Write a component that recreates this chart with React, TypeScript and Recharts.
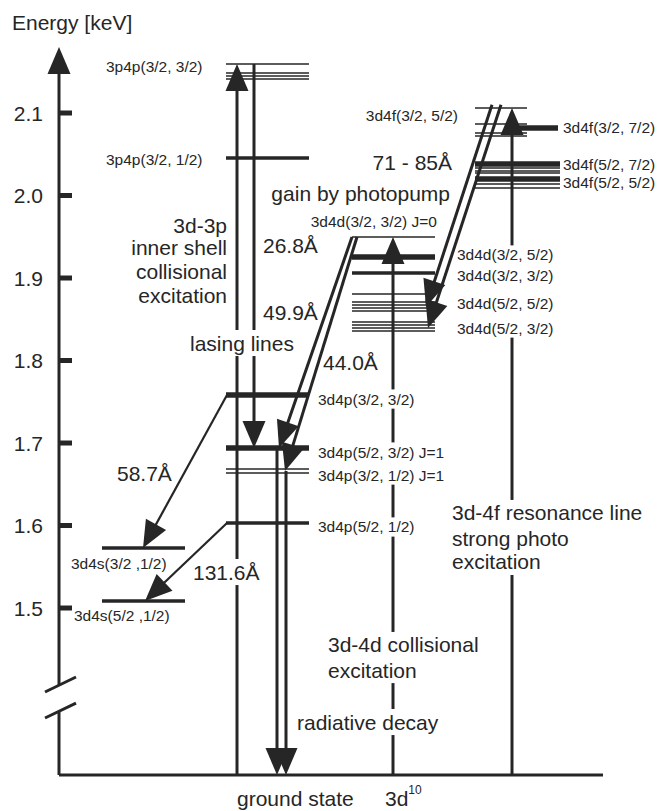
import { ComposedChart, ReferenceLine, XAxis, YAxis } from "recharts";

const FONT = '"Liberation Sans", Arial, Helvetica, sans-serif';
const INK = "#262626";

// energy axis (keV); the axis is broken, the ground state sits at its foot
const GROUND = 1.2976;
const AXIS_TOP = 2.18;
const yTicks = [1.5, 1.6, 1.7, 1.8, 1.9, 2.0, 2.1];

// level energies, [column, keV], grouped by how heavy they are drawn
const thinLevels: [string, number][] = [
  ["p", 2.1594], ["p", 2.1485], ["p", 2.1448], ["p", 2.1412],
  ["p", 1.6685], ["p", 1.6636],
  ["d", 1.9497], ["d", 1.8806],
  ["d", 1.871], ["d", 1.8673], ["d", 1.8636], ["d", 1.86],
  ["d", 1.8467], ["d", 1.843], ["d", 1.8394], ["d", 1.8358],
  ["f", 2.1061], ["f", 2.0867], ["f", 2.0758], ["f", 2.0721],
  ["fw", 2.0333], ["fw", 2.0297], ["fw", 2.0273], ["fw", 2.0139], ["fw", 2.0091],
];
const mediumLevels: [string, number][] = [
  ["p", 2.0455], ["p", 1.603], ["s", 1.5727], ["s", 1.5085], ["d", 1.906],
];
const thickLevels: [string, number][] = [
  ["p", 1.7582], ["p", 1.6939], ["d", 1.9255], ["fx", 2.0818], ["fw", 2.0382], ["fw", 2.02],
];

// transitions: [lane, keV] -> [lane, keV]
const excitations: [string, number, string, number][] = [
  ["pUp", GROUND, "pUp", 2.1594],
  ["dUp", GROUND, "dUp", 1.9497],
  ["fUp", GROUND, "fUp", 2.1061],
];
const heavyArrows: [string, number, string, number][] = [
  ["pLase", 2.1594, "pLase", 1.6939],
  ["decay1", 1.6939, "decay1", GROUND],
  ["decay2", 1.6661, "decay2", GROUND],
  ["j0a", 1.9497, "tip49", 1.6939],
  ["j0b", 1.9497, "tip44", 1.6661],
  ["pumpA0", 2.11, "pumpA1", 1.8648],
  ["pumpB0", 2.11, "pumpB1", 1.8394],
];
const lightArrows: [string, number, string, number][] = [
  ["pLeft", 1.7582, "sTip1", 1.5727],
  ["pLeft", 1.603, "sTip2", 1.5085],
];

// layout: horizontal extents of the level columns and x of the arrow lanes (px)
const COLS: Record<string, [number, number]> = {
  s: [102, 185], p: [226, 309], d: [352, 435], f: [475, 527], fx: [513, 558], fw: [475, 560],
};
const LANE: Record<string, number> = {
  axis: 59, pUp: 237, pLase: 254, decay1: 277, decay2: 286, dUp: 393, fUp: 512,
  j0a: 352, j0b: 357, tip49: 279, tip44: 285, pLeft: 227, sTip1: 143, sTip2: 145,
  pumpA0: 492, pumpA1: 426, pumpB0: 501, pumpB1: 428,
};

type Lbl = [string, number, number, "start" | "end"];
const smallLabels: Lbl[] = [
  ["3p4p(3/2, 3/2)", 106, 2.1558, "start"],
  ["3p4p(3/2, 1/2)", 106, 2.0442, "start"],
  ["3d4f(3/2, 5/2)", 458, 2.0964, "end"],
  ["3d4f(3/2, 7/2)", 563, 2.083, "start"],
  ["3d4f(5/2, 7/2)", 563, 2.0376, "start"],
  ["3d4f(5/2, 5/2)", 563, 2.0158, "start"],
  ["3d4d(3/2, 3/2) J=0", 437, 1.9679, "end"],
  ["3d4d(3/2, 5/2)", 457, 1.9279, "start"],
  ["3d4d(3/2, 3/2)", 457, 1.9036, "start"],
  ["3d4d(5/2, 5/2)", 457, 1.8697, "start"],
  ["3d4d(5/2, 3/2)", 457, 1.8394, "start"],
  ["3d4p(3/2, 3/2)", 318, 1.7533, "start"],
  ["3d4p(5/2, 3/2) J=1", 318, 1.6891, "start"],
  ["3d4p(3/2, 1/2) J=1", 318, 1.6612, "start"],
  ["3d4p(5/2, 1/2)", 318, 1.5982, "start"],
  ["3d4s(3/2 ,1/2)", 71, 1.5545, "start"],
  ["3d4s(5/2 ,1/2)", 74, 1.4915, "start"],
];
const bigLabels: Lbl[] = [
  ["Energy [keV]", 12, 2.2103, "start"],
  ["3d-3p", 227, 1.9642, "end"],
  ["inner shell", 227, 1.9364, "end"],
  ["collisional", 227, 1.9073, "end"],
  ["excitation", 227, 1.8794, "end"],
  ["26.8Å", 263, 1.94, "start"],
  ["49.9Å", 263, 1.8576, "start"],
  ["lasing lines", 190, 1.8212, "start"],
  ["44.0Å", 323, 1.797, "start"],
  ["58.7Å", 117, 1.6636, "start"],
  ["131.6Å", 193, 1.5436, "start"],
  ["71 - 85Å", 452, 2.0394, "end"],
  ["gain by photopump", 450, 2.003, "end"],
  ["3d-4f  resonance line", 452, 1.6152, "start"],
  ["strong photo", 452, 1.5848, "start"],
  ["excitation", 452, 1.5558, "start"],
  ["3d-4d  collisional", 328, 1.4552, "start"],
  ["excitation", 328, 1.4248, "start"],
  ["radiative decay", 297, 1.3618, "start"],
  ["ground state", 237, 1.2697, "start"],
];

const SMALL = 15.5;
const BIG = 21;
const PX_PER_KEV = 728 / (AXIS_TOP - GROUND);

const ctx = typeof document !== "undefined" ? document.createElement("canvas").getContext("2d") : null;
function textWidth(t: string, size: number) {
  if (!ctx) return t.length * size * 0.55;
  ctx.font = `${size}px "Liberation Sans"`;
  return ctx.measureText(t).width;
}

// label boxes, used to leave gaps in the vertical lines behind the texts
const labelBoxes = [
  ...smallLabels.map((l) => [l, SMALL] as const),
  ...bigLabels.map((l) => [l, BIG] as const),
].map(([[t, x, e, a], size]) => {
  const w = textWidth(t, size);
  const x0 = a === "end" ? x - w : x;
  return { x0: x0 - 2, x1: x0 + w + 2, lo: e - (size * 0.62) / PX_PER_KEV, hi: e + (size * 0.62) / PX_PER_KEV };
});

function verticalPieces(x: number, from: number, to: number): [number, number][] {
  const lo = Math.min(from, to);
  const hi = Math.max(from, to);
  const gaps = labelBoxes
    .filter((b) => x >= b.x0 && x <= b.x1 && b.hi > lo && b.lo < hi)
    .map((b) => [b.lo, b.hi])
    .sort((a, b) => a[0] - b[0]);
  const merged: number[][] = [];
  for (const g of gaps) {
    const last = merged[merged.length - 1];
    if (last && g[0] - last[1] < 12 / PX_PER_KEV) last[1] = Math.max(last[1], g[1]);
    else merged.push([...g]);
  }
  const segs: [number, number][] = [];
  let cur = lo;
  for (const [g0, g1] of merged) {
    if (g0 > cur) segs.push([cur, g0]);
    cur = Math.max(cur, g1);
  }
  if (cur < hi) segs.push([cur, hi]);
  return from < to ? segs : segs.reverse().map(([a, b]) => [b, a] as [number, number]);
}

function labelShape(text: string, size: number, anchor: "start" | "end") {
  return (p: any) => (
    <text x={p.x1} y={p.y1} textAnchor={anchor} dominantBaseline="central" fontSize={size} fontFamily={FONT} fill={INK}>
      {text}
    </text>
  );
}

function arrowShape(width: number, headLen = 27, half = 11.5) {
  return (p: any) => {
    const { x1, y1, x2, y2 } = p;
    const len = Math.hypot(x2 - x1, y2 - y1) || 1;
    const ux = (x2 - x1) / len;
    const uy = (y2 - y1) / len;
    const bx = x2 - ux * headLen;
    const by = y2 - uy * headLen;
    const pts = `${x2},${y2} ${bx - uy * half},${by + ux * half} ${bx + uy * half},${by - ux * half}`;
    return (
      <g>
        <line x1={x1} y1={y1} x2={bx + ux * 2} y2={by + uy * 2} stroke={INK} strokeWidth={width} />
        <polygon points={pts} fill={INK} />
      </g>
    );
  };
}

function EnergyTick(props: any) {
  const { x, y, payload } = props;
  return (
    <g>
      <rect x={x} y={y - 2.5} width={13} height={5} fill={INK} />
      <text x={x - 16} y={y} textAnchor="end" dominantBaseline="central" fontSize={BIG} fontFamily={FONT} fill={INK}>
        {Number(payload.value).toFixed(1)}
      </text>
    </g>
  );
}

function levelLines(list: [string, number][], w: number, key: string) {
  return list.map(([c, e], i) => (
    <ReferenceLine
      key={`${key}${i}`}
      segment={[{ x: COLS[c][0], y: e }, { x: COLS[c][1], y: e }]}
      stroke={INK}
      strokeWidth={w}
      ifOverflow="visible"
    />
  ));
}

function arrows(list: [string, number, string, number][], w: number, key: string) {
  return list.flatMap(([a, e1, b, e2], i) => {
    if (a !== b) {
      return [
        <ReferenceLine
          key={`${key}${i}`}
          segment={[{ x: LANE[a], y: e1 }, { x: LANE[b], y: e2 }]}
          shape={arrowShape(w)}
          ifOverflow="visible"
        />,
      ];
    }
    const x = LANE[a];
    const segs = verticalPieces(x, e1, e2);
    return segs.map(([s1, s2], j) =>
      j === segs.length - 1 ? (
        <ReferenceLine key={`${key}${i}-${j}`} segment={[{ x, y: s1 }, { x, y: s2 }]} shape={arrowShape(w)} ifOverflow="visible" />
      ) : (
        <ReferenceLine key={`${key}${i}-${j}`} segment={[{ x, y: s1 }, { x, y: s2 }]} stroke={INK} strokeWidth={w} ifOverflow="visible" />
      ),
    );
  });
}

function labels(list: Lbl[], size: number, key: string) {
  return list.map(([t, x, e, a], i) => (
    <ReferenceLine
      key={`${key}${i}`}
      segment={[{ x, y: e }, { x: x + 0.001, y: e }]}
      shape={labelShape(t, size, a)}
      ifOverflow="visible"
    />
  ));
}

export default function App() {
  return (
    <div style={{ position: "absolute", left: 0, top: 0, width: 659, height: 811, background: "#fff" }}>
      <ComposedChart width={659} height={811} data={[]} margin={{ top: 47, right: 0, bottom: 36, left: 0 }}>
        <XAxis type="number" dataKey="x" domain={[59, 659]} allowDataOverflow hide />
        <YAxis
          type="number"
          domain={[GROUND, AXIS_TOP]}
          ticks={yTicks}
          allowDataOverflow
          width={59}
          axisLine={false}
          tickLine={false}
          tickSize={0}
          tickMargin={0}
          tick={<EnergyTick />}
        />

        {/* energy axis with break and arrow */}
        <ReferenceLine segment={[{ x: LANE.axis, y: GROUND }, { x: LANE.axis, y: 1.3752 }]} stroke={INK} strokeWidth={3} ifOverflow="visible" />
        <ReferenceLine segment={[{ x: LANE.axis, y: 1.4067 }, { x: LANE.axis, y: AXIS_TOP }]} shape={arrowShape(3)} ifOverflow="visible" />
        <ReferenceLine segment={[{ x: 45, y: 1.3982 }, { x: 76, y: 1.4164 }]} stroke={INK} strokeWidth={3} ifOverflow="visible" />
        <ReferenceLine segment={[{ x: 45, y: 1.3667 }, { x: 76, y: 1.3848 }]} stroke={INK} strokeWidth={3} ifOverflow="visible" />

        {/* ground state */}
        <ReferenceLine segment={[{ x: LANE.axis, y: GROUND }, { x: 603, y: GROUND }]} stroke={INK} strokeWidth={3} ifOverflow="visible" />

        {levelLines(thinLevels, 1.6, "t")}
        {levelLines(mediumLevels, 3.5, "m")}
        {levelLines(thickLevels, 5.5, "k")}

        {arrows(excitations, 3, "x")}
        {arrows(heavyArrows, 3, "h")}
        {arrows(lightArrows, 2.2, "l")}

        {labels(smallLabels, SMALL, "s")}
        {labels(bigLabels, BIG, "b")}
        <ReferenceLine
          segment={[{ x: 385, y: 1.2697 }, { x: 385.001, y: 1.2697 }]}
          ifOverflow="visible"
          shape={(p: any) => (
            <text x={p.x1} y={p.y1} dominantBaseline="central" fontSize={BIG} fontFamily={FONT} fill={INK}>
              3d
              <tspan fontSize={12} dy={-8}>10</tspan>
            </text>
          )}
        />
      </ComposedChart>
    </div>
  );
}
